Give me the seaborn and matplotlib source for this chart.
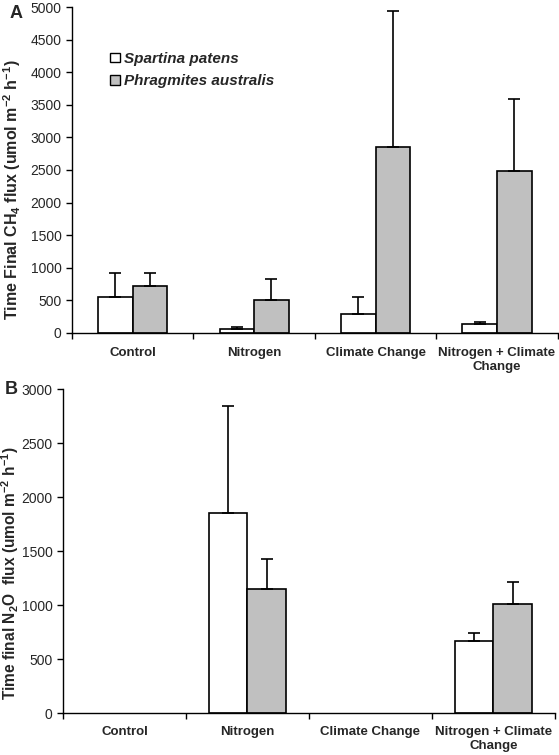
import matplotlib
matplotlib.use("Agg")
import matplotlib.pyplot as plt
import seaborn as sns
import pandas as pd
import numpy as np
from matplotlib.patches import Patch

categories = ["Control", "Nitrogen", "Climate Change", "Nitrogen + Climate\nChange"]
species = ["Spartina patens", "Phragmites australis"]

ch4_spartina = [555, 60, 290, 135]
ch4_spartina_err = [365, 35, 255, 35]
ch4_phrag = [725, 505, 2845, 2490]
ch4_phrag_err = [195, 320, 2090, 1105]

n2o_spartina = [0, 1850, 0, 665]
n2o_spartina_err = [0, 995, 0, 75]
n2o_phrag = [0, 1155, 0, 1010]
n2o_phrag_err = [0, 275, 0, 205]

sns.set_style("white")
plt.rcParams["font.family"] = ["Liberation Sans", "DejaVu Sans"]
plt.rcParams["mathtext.default"] = "regular"

palette = {"Spartina patens": "white", "Phragmites australis": "#c0c0c0"}

fig = plt.figure(figsize=(5.59, 7.55), dpi=100)
axA = fig.add_axes([0.1288, 0.559, 0.869, 0.4317])
axB = fig.add_axes([0.1127, 0.0552, 0.880, 0.4292])


def make_df(sp, ph):
    return pd.DataFrame({
        "cat": categories * 2,
        "species": [species[0]] * 4 + [species[1]] * 4,
        "value": list(sp) + list(ph),
    })


def draw(ax, sp, sp_err, ph, ph_err, width, ymax, ystep, pad):
    df = make_df(sp, ph)
    sns.barplot(data=df, x="cat", y="value", hue="species", order=categories,
                hue_order=species, palette=palette, edgecolor="black",
                linewidth=1.2, width=width, errorbar=None, ax=ax, legend=False,
                gap=0)
    errs = list(sp_err) + list(ph_err)
    vals = list(sp) + list(ph)
    for p, v, e in zip(ax.patches[:8], vals, errs):
        if v == 0:
            p.set_linewidth(0)
        if e > 0:
            x = p.get_x() + p.get_width() / 2
            ax.errorbar([x], [v], yerr=[[0], [e]], fmt="none", ecolor="black",
                        elinewidth=1.2, capsize=4, capthick=1.2)
    ax.set_xlim(-0.5, 3.5)
    ax.set_ylim(0, ymax)
    ax.set_yticks(np.arange(0, ymax + 1, ystep))
    ax.set_xlabel("")
    ax.set_xticks([0, 1, 2, 3])
    ax.set_xticklabels(categories, fontweight="bold", fontsize=9.5)
    ax.set_xticks([-0.5, 0.5, 1.5, 2.5, 3.5], minor=True)
    ax.tick_params(axis="x", which="major", length=0, pad=pad)
    ax.tick_params(axis="x", which="minor", length=4, width=1, color="black", direction="out", bottom=True)
    ax.tick_params(axis="y", length=4, width=1, color="black", direction="out", left=True, labelsize=10)
    for s in ["top", "right"]:
        ax.spines[s].set_visible(False)
    for s in ["left", "bottom"]:
        ax.spines[s].set_color("black")
        ax.spines[s].set_linewidth(1)


draw(axA, ch4_spartina, ch4_spartina_err, ch4_phrag, ch4_phrag_err, 0.57, 5000, 500, 10)
axA.set_ylabel("Time Final CH$_4$ flux (umol m$^{-2}$ h$^{-1}$)", fontweight="bold", fontsize=11.5)
axA.yaxis.set_label_coords(-(72 - 23) / (0.869 * 559), (333 - 190) / (0.4317 * 755))
draw(axB, n2o_spartina, n2o_spartina_err, n2o_phrag, n2o_phrag_err, 0.63, 3000, 500, 9)
axB.set_ylabel("Time final N$_2$O  flux (umol m$^{-2}$ h$^{-1}$)", fontweight="bold", fontsize=11.2)
axB.yaxis.set_label_coords(-(63 - 21) / (0.880 * 559), (713 - 573) / (0.4292 * 755))

handles = [Patch(facecolor=palette[s], edgecolor="black", linewidth=1) for s in species]
axA.legend(handles, species, loc="upper left", bbox_to_anchor=(0.079, 0.862), frameon=False,
           prop={"weight": "bold", "style": "italic", "size": 11},
           handlelength=0.6, handleheight=0.6, handletextpad=0.3, labelspacing=0.55,
           borderpad=0, borderaxespad=0)

fig.text(10 / 559, 1 - 14 / 755, "A", fontsize=13, fontweight="bold", va="center")
fig.text(5 / 559, 1 - 389 / 755, "B", fontsize=13, fontweight="bold", va="center")

fig.savefig("out.png", dpi=100)
